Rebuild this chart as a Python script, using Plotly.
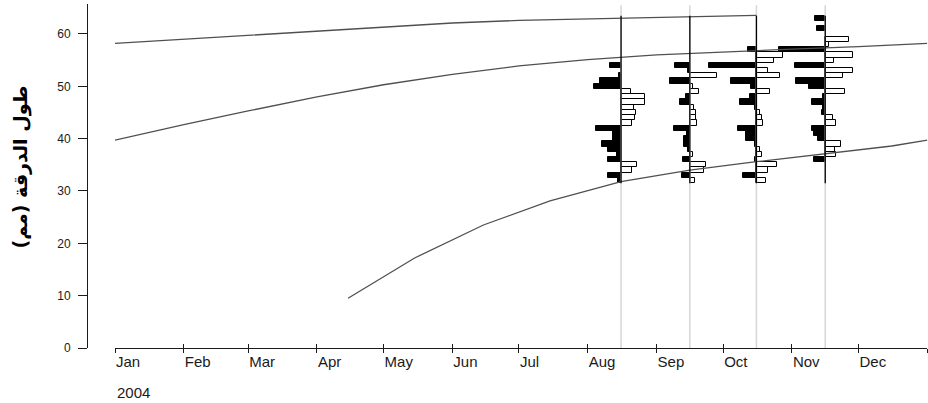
import pandas as pd
import plotly.graph_objects as go

# ---- axis labels -------------------------------------------------------
MONTH_STARTS = pd.date_range("2004-01-01", "2005-01-01", freq="MS")
MONTH_LABELS = ["Jan", "Feb", "Mar", "Apr", "May", "Jun",
                "Jul", "Aug", "Sep", "Oct", "Nov", "Dec", ""]
YEAR_LABEL = "2004"
Y_TICKS = [0, 10, 20, 30, 40, 50, 60]
Y_TITLE = "طول الدرقة (مم)"

# ---- restructured length-frequency samples (1 mm classes, 32..63 mm) ---
LENGTH_BINS = list(range(32, 64))
SAMPLE_DATES = ["2004-08-16", "2004-09-16", "2004-10-16", "2004-11-16"]

SCORES_AUG = [-0.14, -0.59, 0.50, 0.72, -0.59, -0.18, -0.60, -0.86,
              -0.34, -0.34, -1.15, 0.50, 0.61, 0.68, 0.59, 1.08,
              1.08, 0.45, -1.22, -0.95, -0.09, 0.00, -0.50, 0.00,
              0.00, 0.00, 0.00, 0.00, 0.00, 0.00, 0.00, 0.00]
SCORES_SEP = [0.23, -0.36, 0.63, 0.75, -0.29, 0.15, -0.10, -0.27,
              -0.27, -0.13, -0.73, 0.34, 0.26, 0.26, 0.19, -0.45,
              -0.18, 0.42, 0.16, -0.88, 1.22, -0.07, -0.65, 0.00,
              0.00, 0.00, 0.00, 0.00, 0.00, 0.00, 0.00, 0.00]
SCORES_OCT = [0.45, -0.59, 0.53, 0.93, -0.08, 0.23, 0.16, -0.08,
              -0.45, -0.45, -0.81, 0.30, 0.23, 0.17, -0.07, -0.73,
              -0.30, 0.59, -0.23, -1.16, 1.07, 0.50, -2.13, 0.77,
              1.20, -0.37, 0.00, 0.00, 0.00, 0.00, 0.00, 0.00]
SCORES_NOV = [0.00, 0.00, 0.00, 0.00, -0.50, 0.49, 0.44, 0.71,
              -0.34, -0.49, -0.59, 0.49, 0.35, -0.15, -0.11, -0.59,
              -0.09, 0.87, -0.71, -1.30, 0.79, 1.23, -1.35, 0.41,
              1.23, -2.07, 0.19, 1.06, 0.00, -0.36, 0.00, -0.44]
SAMPLE_SCORES = [SCORES_AUG, SCORES_SEP, SCORES_OCT, SCORES_NOV]

# ---- growth curves (three cohorts) -------------------------------------
COHORT_OLD_DATES = ["2004-01-01", "2004-02-01", "2004-03-01", "2004-04-01",
                    "2004-05-01", "2004-06-01", "2004-07-01", "2004-08-01",
                    "2004-09-01", "2004-10-01", "2004-10-16"]
COHORT_OLD_LEN = [58.2, 59.0, 59.7, 60.6, 61.4, 62.1, 62.6, 62.85,
                  63.15, 63.45, 63.55]

COHORT_MID_DATES = ["2004-01-01", "2004-02-01", "2004-03-01", "2004-04-01",
                    "2004-05-01", "2004-06-01", "2004-07-01", "2004-08-01",
                    "2004-09-01", "2004-10-01", "2004-11-01", "2004-12-01",
                    "2005-01-01"]
COHORT_MID_LEN = [39.7, 42.7, 45.3, 48.0, 50.3, 52.3, 53.9, 55.1,
                  56.0, 56.6, 57.1, 57.6, 58.2]

COHORT_NEW_DATES = ["2004-04-15", "2004-05-15", "2004-06-15", "2004-07-15",
                    "2004-08-16", "2004-09-16", "2004-10-16", "2004-11-16",
                    "2004-12-16", "2005-01-01"]
COHORT_NEW_LEN = [9.5, 17.2, 23.5, 28.1, 31.8, 34.0, 35.6, 37.1, 38.6, 39.7]

DAYS_PER_SCORE = 10          # horizontal extent of one score unit
MS_PER_DAY = 86400000
Y_MAX = 65.73
INK = "#1a1a1a"
CURVE = "#505050"

fig = go.Figure()

# light vertical guides at each sampling date
gx, gy = [], []
for d in SAMPLE_DATES:
    gx += [d, d, None]
    gy += [0, 65.5, None]
fig.add_trace(go.Scatter(x=gx, y=gy, mode="lines", hoverinfo="skip",
                         line=dict(color="#d6d6d6", width=1.5)))

# horizontal histograms: black to the left (negative), white to the right
for d, scores in zip(SAMPLE_DATES, SAMPLE_SCORES):
    ys = [b for b, s in zip(LENGTH_BINS, scores) if s != 0]
    vs = [s for s in scores if s != 0]
    fig.add_trace(go.Bar(
        y=ys,
        x=[v * DAYS_PER_SCORE * MS_PER_DAY for v in vs],
        base=[d] * len(vs),
        orientation="h",
        width=1,
        marker=dict(color=["white" if v > 0 else "black" for v in vs],
                    line=dict(color="black", width=1)),
        hoverinfo="skip",
    ))

# growth curves
for xs, ys in [(COHORT_OLD_DATES, COHORT_OLD_LEN),
               (COHORT_MID_DATES, COHORT_MID_LEN),
               (COHORT_NEW_DATES, COHORT_NEW_LEN)]:
    fig.add_trace(go.Scatter(x=xs, y=ys, mode="lines", hoverinfo="skip",
                             line=dict(color=CURVE, width=1.3)))

# histogram baselines spanning the length-class range
lo, hi = min(LENGTH_BINS) - 0.5, max(LENGTH_BINS) + 0.5
bx, by = [], []
for d in SAMPLE_DATES:
    bx += [d, d, None]
    by += [lo, hi, None]
fig.add_trace(go.Scatter(x=bx, y=by, mode="lines", hoverinfo="skip",
                         line=dict(color="black", width=1.3)))

# carrier for the inner tick set of the time axis
fig.add_trace(go.Scatter(x=[MONTH_STARTS[0]], y=[0], xaxis="x2",
                         mode="markers", marker=dict(opacity=0),
                         hoverinfo="skip"))

tick_font = dict(family="Liberation Sans, Arial, sans-serif", color=INK)
x_common = dict(type="date", range=["2004-01-01", "2005-01-01"],
                domain=[0.0333, 0.9992], showgrid=False, zeroline=False,
                tickvals=list(MONTH_STARTS), tickcolor=INK, tickwidth=1)

fig.update_layout(
    width=928, height=403,
    margin=dict(l=87, r=0, t=4, b=55),
    paper_bgcolor="white", plot_bgcolor="white",
    showlegend=False, barmode="overlay", bargap=0,
    xaxis=dict(**x_common, anchor="y", showline=True, linecolor=INK,
               linewidth=1, ticks="outside", ticklen=4,
               ticktext=MONTH_LABELS, ticklabelposition="outside right",
               tickfont=dict(**tick_font, size=15)),
    xaxis2=dict(**x_common, anchor="y", overlaying="x", side="bottom",
                ticks="inside", ticklen=4, showticklabels=False,
                showline=False),
    yaxis=dict(range=[0, Y_MAX], domain=[0, 1], anchor="free", position=0,
               showline=True, linecolor=INK, linewidth=1, ticks="outside",
               ticklen=9, tickcolor=INK, tickvals=Y_TICKS,
               tickfont=dict(**tick_font, size=12), ticklabelstandoff=5,
               showgrid=False, zeroline=False),
    annotations=[
        dict(text=YEAR_LABEL, x="2004-01-01", xref="x", xanchor="left",
             y=-0.128, yref="paper", yanchor="middle", showarrow=False,
             font=dict(**tick_font, size=15)),
        dict(text=Y_TITLE, textangle=-90, x=-0.0795, xref="paper",
             xanchor="center", y=0.525, yref="paper", yanchor="middle",
             showarrow=False,
             font=dict(family="DejaVu Sans", size=19, color="black",
                       weight="bold")),
    ],
)

fig.write_html("out.html")
